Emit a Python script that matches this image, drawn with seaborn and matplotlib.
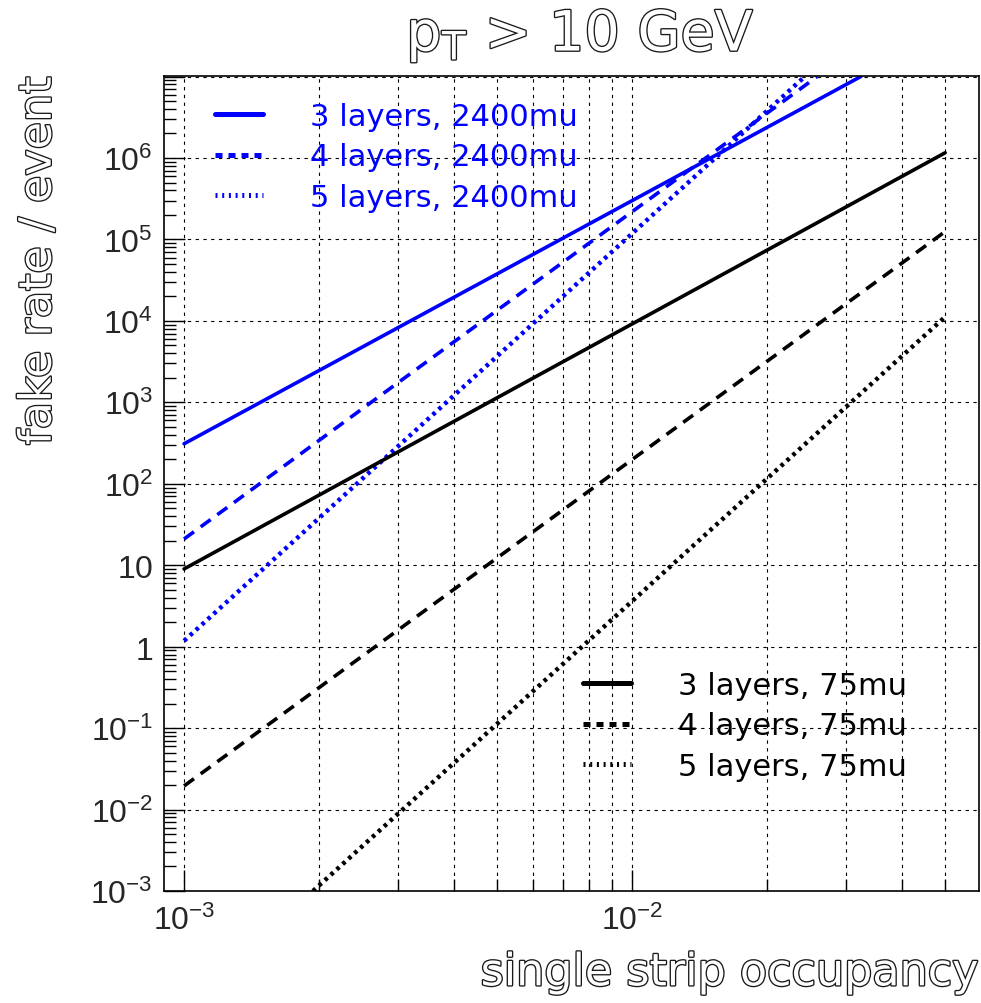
import matplotlib
matplotlib.use("Agg")
import matplotlib.pyplot as plt
import matplotlib.ticker as mticker
import matplotlib.patheffects as pe
from matplotlib.lines import Line2D
import numpy as np
import seaborn as sns

# valeurs (droites en log-log, extremites visibles)
x_75 = [1.0e-3, 5.0e-2]
rate_3l_75 = [9.0, 1.16e6]
rate_4l_75 = [0.0195, 1.25e5]
x_5l_75 = [1.94e-3, 5.0e-2]
rate_5l_75 = [1.0e-3, 1.12e4]

x_3l_2400 = [1.0e-3, 3.24e-2]
rate_3l_2400 = [310.0, 1.0e7]
x_4l_2400 = [1.0e-3, 2.59e-2]
rate_4l_2400 = [21.0, 1.0e7]
x_5l_2400 = [1.0e-3, 2.43e-2]
rate_5l_2400 = [1.18, 1.0e7]

labels_2400 = ["3 layers, 2400mu", "4 layers, 2400mu", "5 layers, 2400mu"]
labels_75 = ["3 layers, 75mu", "4 layers, 75mu", "5 layers, 75mu"]

sns.set_theme(style="white")
plt.rcParams["font.family"] = ["DejaVu Sans"]
plt.rcParams["mathtext.fontset"] = "custom"
plt.rcParams["mathtext.rm"] = "Liberation Sans"
plt.rcParams["mathtext.it"] = "Liberation Sans:italic"
plt.rcParams["mathtext.bf"] = "Liberation Sans:bold"

W, H = 981, 1004
fig = plt.figure(figsize=(W / 100, H / 100), dpi=100)
ax = fig.add_axes([164 / W, 1 - 892 / H, 815 / W, 815 / H])
ax.set_xscale("log")
ax.set_yscale("log")

solid = "-"
dashed = (0, (3.4, 2.3))
dotted = (0, (0.8, 1.0))
lw = 2.6
lw_dot = 3.2

sns.lineplot(x=x_3l_2400, y=rate_3l_2400, ax=ax, color="blue", linewidth=lw, linestyle=solid, legend=False)
sns.lineplot(x=x_4l_2400, y=rate_4l_2400, ax=ax, color="blue", linewidth=lw, linestyle=dashed, legend=False)
sns.lineplot(x=x_5l_2400, y=rate_5l_2400, ax=ax, color="blue", linewidth=lw_dot, linestyle=dotted, legend=False)
sns.lineplot(x=x_75, y=rate_3l_75, ax=ax, color="black", linewidth=lw, linestyle=solid, legend=False)
sns.lineplot(x=x_75, y=rate_4l_75, ax=ax, color="black", linewidth=lw, linestyle=dashed, legend=False)
sns.lineplot(x=x_5l_75, y=rate_5l_75, ax=ax, color="black", linewidth=lw_dot, linestyle=dotted, legend=False)

ax.set_xlim(9.02e-4, 5.95e-2)
ax.set_ylim(1e-3, 1.016e7)

# graduations facon ROOT
ax.xaxis.set_major_locator(mticker.LogLocator(base=10, numticks=100))
ax.xaxis.set_minor_locator(mticker.LogLocator(base=10, subs=np.arange(2, 10), numticks=100))
ax.yaxis.set_major_locator(mticker.LogLocator(base=10, numticks=100))
ax.yaxis.set_minor_locator(mticker.LogLocator(base=10, subs=np.arange(2, 10), numticks=100))
ax.xaxis.set_minor_formatter(mticker.NullFormatter())
ax.yaxis.set_minor_formatter(mticker.NullFormatter())


def fmt_pow(v, pos):
    k = int(round(np.log10(v)))
    if k >= 7:
        return ""
    if k == 0:
        return "$1$"
    if k == 1:
        return "$10$"
    return "$10^{%d}$" % k


ax.xaxis.set_major_formatter(mticker.FuncFormatter(fmt_pow))
ax.yaxis.set_major_formatter(mticker.FuncFormatter(fmt_pow))

ax.tick_params(which="both", direction="in", top=False, right=False, left=True, bottom=True,
               color="black", width=1.0)
ax.tick_params(which="major", length=15, labelsize=23)
ax.tick_params(which="minor", length=8.5)
ax.tick_params(axis="y", which="major", pad=8)
ax.tick_params(axis="x", which="major", pad=10)

grid_style = dict(color="black", linestyle=(0, (3, 4)), linewidth=0.8)
ax.grid(True, which="major", axis="both", **grid_style)
ax.grid(True, which="minor", axis="x", **grid_style)
ax.set_axisbelow(True)

for s in ax.spines.values():
    s.set_color("black")
    s.set_linewidth(1.2)

outline = [pe.withStroke(linewidth=1.9, foreground="#1a1a1a")]

ax.set_xlabel("single strip occupancy", fontsize=32, loc="right", color="white", path_effects=outline)
ax.xaxis.set_label_coords(1.0, -0.074)
ax.set_ylabel("fake rate / event", fontsize=32, loc="top", color="white", path_effects=outline)
ax.yaxis.set_label_coords(-0.128, 1.0)

fig.text(580 / W, 1 - 52 / H, r"p$_\mathregular{T}$ > 10 GeV", ha="center", va="baseline",
         fontsize=40, color="white", path_effects=outline)

# legendes
hl = 3.6
h2400 = [Line2D([], [], color="blue", lw=hl, linestyle="-"),
         Line2D([], [], color="blue", lw=hl, linestyle=(0, (1.4, 1.2))),
         Line2D([], [], color="blue", lw=hl, linestyle=(0, (0.4, 0.94)))]
h75 = [Line2D([], [], color="black", lw=hl, linestyle="-"),
       Line2D([], [], color="black", lw=hl, linestyle=(0, (1.4, 1.2))),
       Line2D([], [], color="black", lw=hl, linestyle=(0, (0.4, 0.94)))]

fs_leg = 22
leg_kw = dict(frameon=False, fontsize=fs_leg, handlelength=48 / (fs_leg * 100 / 72),
              handletextpad=47 / (fs_leg * 100 / 72),
              labelspacing=0.37, borderpad=0, borderaxespad=0, loc="upper left",
              bbox_transform=fig.transFigure)
leg1 = ax.legend(h2400, labels_2400, bbox_to_anchor=(215 / W, 1 - 103 / H), labelcolor="blue", **leg_kw)
ax.add_artist(leg1)
ax.legend(h75, labels_75, bbox_to_anchor=(583 / W, 1 - 672 / H), labelcolor="black", **leg_kw)

fig.savefig("out.png", dpi=100)
